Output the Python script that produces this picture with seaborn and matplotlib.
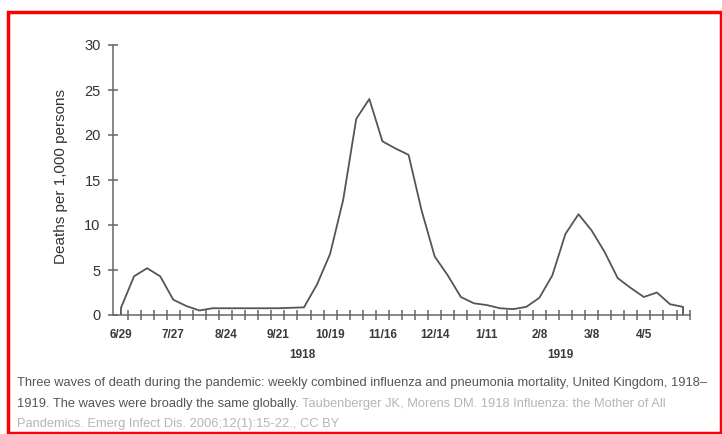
import matplotlib.pyplot as plt
import seaborn as sns
import pandas as pd
from matplotlib.patches import Rectangle
from matplotlib.transforms import blended_transform_factory

# weekly deaths per 1,000 persons, UK, week of 6/29/1918 .. 4/26/1919
weeks = list(range(44))
deaths = [0.8, 4.3, 5.2, 4.3, 1.7, 1.0, 0.5, 0.75, 0.75, 0.75,
          0.75, 0.75, 0.75, 0.8, 0.85, 3.4, 6.8, 12.8, 21.8, 24.0,
          19.3, 18.5, 17.8, 11.6, 6.5, 4.4, 2.0, 1.3, 1.1, 0.75,
          0.65, 0.9, 1.9, 4.4, 9.0, 11.2, 9.4, 7.0, 4.1, 3.0,
          2.0, 2.5, 1.2, 0.9]

label_weeks = [0, 4, 8, 12, 16, 20, 24, 28, 32, 36, 40]
tick_labels = ['6/29', '7/27', '8/24', '9/21', '10/19', '11/16',
               '12/14', '1/11', '2/8', '3/8', '4/5']
years = ['1918', '1919']
year_pos = [13.9, 33.6]

# the curve drops straight down to zero at both ends
x = [weeks[0]] + weeks + [weeks[-1]]
y = [0] + deaths + [0]
df = pd.DataFrame({'week': x, 'deaths': y})

sns.set_style('white')
plt.rcParams['font.family'] = ['Liberation Sans', 'DejaVu Sans']

W, H = 722, 434
fig = plt.figure(figsize=(W / 100, H / 100), dpi=100)
ax = fig.add_axes([113 / W, 1 - 315 / H, (689.6 - 113) / W, (315 - 45) / H])

sns.lineplot(data=df, x='week', y='deaths', sort=False, estimator=None,
             color='#555555', lw=1.3, ax=ax)

ax.set_xlim(-0.61, 43.5)
ax.set_ylim(0, 30)
for s in ['top', 'right']:
    ax.spines[s].set_visible(False)
for s in ['left', 'bottom']:
    ax.spines[s].set_color('#666666')
    ax.spines[s].set_linewidth(1.1)

ax.set_xticks(label_weeks, tick_labels)
ax.set_xticks([w + 0.5 for w in weeks], minor=True)
ax.tick_params(axis='x', which='major', bottom=True, length=0, pad=10,
               labelsize=8.5, labelcolor='#3a3a3a')
ax.tick_params(axis='x', which='minor', bottom=True, length=7, width=1.1,
               direction='inout', color='#666666')
for t in ax.get_xticklabels():
    t.set_fontweight('bold')

ax.set_yticks([0, 5, 10, 15, 20, 25, 30])
ax.tick_params(axis='y', which='major', left=True, length=7, width=1.1,
               direction='inout', color='#666666', pad=5.4, labelsize=10.5,
               labelcolor='#333333')
ax.set_xlabel('')
ax.set_ylabel('')

trans = blended_transform_factory(ax.transData, fig.transFigure)
for yr, pos in zip(years, year_pos):
    ax.text(pos, 1 - 355 / H, yr, transform=trans, ha='center', va='center',
            fontsize=8.5, fontweight='bold', color='#3a3a3a')

fig.text(61 / W, 1 - 177 / H, 'Deaths per 1,000 persons', rotation=90,
         ha='center', va='center', fontsize=11, color='#333333')

# caption
dark, light = '#555555', '#b5b5b5'
cap = 9.3
fig.text(17 / W, 1 - 383 / H,
         'Three waves of death during the pandemic: weekly combined influenza '
         'and pneumonia mortality, United Kingdom, 1918\u2013',
         ha='left', va='center', fontsize=cap, color=dark)
t1 = fig.text(17 / W, 1 - 404 / H,
              '1919. The waves were broadly the same globally. ',
              ha='left', va='center', fontsize=cap, color=dark)
ax.annotate('Taubenberger JK, Morens DM. 1918 Influenza: the Mother of All',
            xy=(1, 0), xycoords=t1, ha='left', va='bottom',
            fontsize=cap, color=light, annotation_clip=False)
fig.text(17 / W, 1 - 424.5 / H,
         'Pandemics. Emerg Infect Dis. 2006;12(1):15-22., CC BY',
         ha='left', va='center', fontsize=cap, color=light)

# red frame
fig.patches.append(Rectangle((7.75 / W, 1.0 / H), (720.5 - 7.75) / W,
                             (433.0 - 11.5) / H, transform=fig.transFigure,
                             fill=False, edgecolor='#ff0000', lw=2.5))

fig.savefig('out.png', dpi=100)
